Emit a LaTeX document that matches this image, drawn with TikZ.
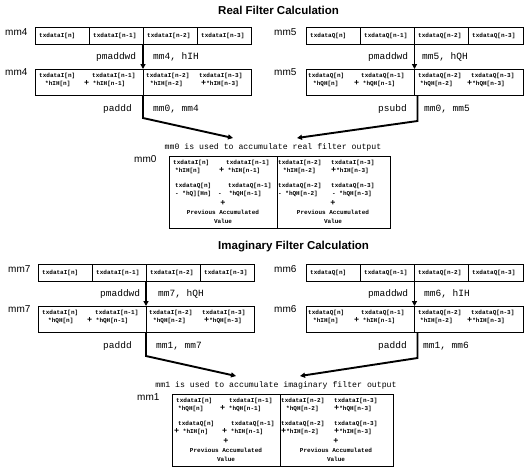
\documentclass[tikz,border=0pt]{standalone}
\usepackage{fontspec}
\setmainfont{Liberation Sans}
\newfontfamily\monof{Liberation Mono}
\usetikzlibrary{arrows.meta,calc}

\tikzset{
  regbox/.style={draw,line width=0.8pt,inner sep=0pt,outer sep=0pt,minimum width=216pt,anchor=north west},
  divider/.style={line width=0.8pt},
  cell/.style={anchor=west,inner sep=0pt,font=\monof\bfseries\fontsize{6}{7}\selectfont},
  cellc/.style={cell,anchor=center},
  reglbl/.style={anchor=west,inner sep=0pt,font=\fontsize{10}{12}\selectfont},
  oplbl/.style={anchor=west,inner sep=0pt,font=\monof\fontsize{9.5}{11}\selectfont},
  caption/.style={inner sep=0pt,font=\monof\fontsize{8.2}{10}\selectfont},
  title/.style={anchor=west,inner sep=0pt,font=\bfseries\fontsize{11.5}{14}\selectfont},
  flow/.style={line width=1.9pt,-{Triangle[length=5pt,width=5pt]}},
}

\newcommand\pl{{\fontsize{8.5}{8}\selectfont +}}
\newcommand\rowcells[7]{%
  \node[cell] (#1a) at (#2+4,#3+8.5) {#4};
  \node[cell] (#1b) at (#2+58,#3+8.5) {#5};
  \node[cell] (#1c) at (#2+112,#3+8.5) {#6};
  \node[cell] (#1d) at (#2+166,#3+8.5) {#7};}
\newcommand\halfcells[9]{%
  \node[cell] (#1a) at (#2+4,#3+7) {#4};
  \node[cell] (#1b) at (#2+57,#3+7) {#5};
  \node[cell] (#1c) at (#2+#8,#3+15) {#6};
  \node[cell] (#1d) at (#2+#9,#3+15) {#7};}
\newcommand\acctail[3]{%
  \node[cellc] (#1p) at (#2,#3+47) {\pl};
  \node[cellc] (#1v) at (#2,#3+56) {Previous Accumulated};
  \node[cellc] (#1w) at (#2,#3+65) {Value};}

\begin{document}
\begin{tikzpicture}[x=1pt,y=-1pt]
\useasboundingbox (0,0) rectangle (532,469);

%% ---------------- Real filter ----------------
\node[title] (ttlA) at (218,10) {Real Filter Calculation};
\node[reglbl] (l4a) at (5,32) {mm4};
\node[reglbl] (l5a) at (274,32) {mm5};
\node[reglbl] (l4b) at (5,72) {mm4};
\node[reglbl] (l5b) at (274,72) {mm5};
\node[regbox,minimum height=17pt] (r4a) at (35,27) {};
\node[regbox,minimum width=217pt,minimum height=17pt] (r5a) at (306,27) {};
\node[regbox,minimum height=26pt] (r4b) at (35,69) {};
\node[regbox,minimum width=217pt,minimum height=26pt] (r5b) at (306,69) {};
\foreach \bx in {r4a,r5a}{\foreach \f in {0.25,0.5,0.75}{
  \draw[divider] ($(\bx.north west)!\f!(\bx.north east)$) -- ($(\bx.south west)!\f!(\bx.south east)$);}}
\foreach \bx in {r4b,r5b}{\draw[divider] (\bx.north) -- (\bx.south);}
\rowcells{c4}{35}{27}{txdataI[n]}{txdataI[n-1]}{txdataI[n-2]}{txdataI[n-3]}
\rowcells{c5}{306}{27}{txdataQ[n]}{txdataQ[n-1]}{txdataQ[n-2]}{txdataQ[n-3]}
\halfcells{h4l}{35}{69}{txdataI[n]}{txdataI[n-1]}{*hIH[n]}{\pl\ *hIH[n-1]}{10}{49}
\halfcells{h4r}{142}{69}{txdataI[n-2]}{txdataI[n-3]}{*hIH[n-2]}{\pl*hIH[n-3]}{8}{59}
\halfcells{h5l}{304}{69}{txdataQ[n]}{txdataQ[n-1]}{*hQH[n]}{\pl\ *hQH[n-1]}{9}{50}
\halfcells{h5r}{414}{69}{txdataQ[n-2]}{txdataQ[n-3]}{*hQH[n-2]}{\pl*hQH[n-3]}{6}{53}
\node[oplbl] (o4a) at (96,57) {pmaddwd};
\node[oplbl] (o4b) at (153,57) {mm4, hIH};
\node[oplbl] (o5a) at (368,57) {pmaddwd};
\node[oplbl] (o5b) at (422,57) {mm5, hQH};
\node[oplbl] (o4c) at (103,109) {paddd};
\node[oplbl] (o4d) at (153,109) {mm0, mm4};
\node[oplbl] (o5c) at (378,109) {psubd};
\node[oplbl] (o5d) at (424,109) {mm0, mm5};
\draw[flow] (r4a.south) -- (r4b.north);
\draw[flow] (r5a.south) -- (r5b.north);
\coordinate (aL0) at (233,138);
\coordinate (aR0) at (297,138);
\draw[flow] (r4b.south) -- ++(0,23) -- (aL0);
\draw[flow] ([xshift=3pt]r5b.south) -- ++(0,26) -- (aR0);
\node[caption] (cap0) at (273,147) {mm0 is used to accumulate real filter output};
\node[reglbl] (l0) at (134,159) {mm0};
\node[regbox,minimum width=221pt,minimum height=72pt] (acc0) at (169,156) {};
\draw[divider] ($(acc0.north west)+(108,0)$) -- ($(acc0.south west)+(108,0)$);
\halfcells{a0l1}{169}{156}{txdataI[n]}{txdataI[n-1]}{*hIH[n]}{\pl\ *hIH[n-1]}{6}{50}
\halfcells{a0l2}{171}{179}{txdataQ[n]}{txdataQ[n-1]}{- *hQ][Hn]}{-~~*hQH[n-1]}{4}{47}
\halfcells{a0r1}{274}{156}{txdataI[n-2]}{txdataI[n-3]}{*hIH[n-2]}{\pl*hIH[n-3]}{9}{57}
\halfcells{a0r2}{274}{179}{txdataQ[n-2]}{txdataQ[n-3]}{- *hQH[n-2]}{- *hQH[n-3]}{4}{58}
\acctail{a0lt}{223}{156}
\acctail{a0rt}{333}{156}

%% ---------------- Imaginary filter ----------------
\begin{scope}[shift={(0,237)}]
\node[title] (ttlB) at (218,10) {Imaginary Filter Calculation};
\node[reglbl] (l6a) at (274,32) {mm6};
\node[reglbl] (l6b) at (274,72) {mm6};
\node[regbox,minimum width=217pt,minimum height=17pt] (r6a) at (306,27) {};
\node[regbox,minimum width=217pt,minimum height=26pt] (r6b) at (306,69) {};
\foreach \f in {0.25,0.5,0.75}{
  \draw[divider] ($(r6a.north west)!\f!(r6a.north east)$) -- ($(r6a.south west)!\f!(r6a.south east)$);}
\draw[divider] (r6b.north) -- (r6b.south);
\rowcells{c6}{306}{27}{txdataQ[n]}{txdataQ[n-1]}{txdataQ[n-2]}{txdataQ[n-3]}
\halfcells{h6l}{304}{69}{txdataQ[n]}{txdataQ[n-1]}{*hIH[n]}{\pl\ *hIH[n-1]}{9}{50}
\halfcells{h6r}{414}{69}{txdataQ[n-2]}{txdataQ[n-3]}{*hIH[n-2]}{\pl*hIH[n-3]}{6}{53}
\node[oplbl] (o6a) at (368,57) {pmaddwd};
\node[oplbl] (o6b) at (424,57) {mm6, hIH};
\node[oplbl] (o6c) at (378,109) {paddd};
\node[oplbl] (o6d) at (423,109) {mm1, mm6};
\draw[flow] (r6a.south) -- (r6b.north);
\end{scope}

\begin{scope}[shift={(3,237)}]
\node[reglbl] (l7a) at (5,32) {mm7};
\node[reglbl] (l7b) at (5,72) {mm7};
\node[regbox,minimum height=17pt] (r7a) at (35,27) {};
\node[regbox,minimum height=26pt] (r7b) at (35,69) {};
\foreach \f in {0.25,0.5,0.75}{
  \draw[divider] ($(r7a.north west)!\f!(r7a.north east)$) -- ($(r7a.south west)!\f!(r7a.south east)$);}
\draw[divider] (r7b.north) -- (r7b.south);
\rowcells{c7}{35}{27}{txdataI[n]}{txdataI[n-1]}{txdataI[n-2]}{txdataI[n-3]}
\halfcells{h7l}{35}{69}{txdataI[n]}{txdataI[n-1]}{*hQH[n]}{\pl\ *hQH[n-1]}{10}{49}
\halfcells{h7r}{142}{69}{txdataI[n-2]}{txdataI[n-3]}{*hQH[n-2]}{\pl*hQH[n-3]}{8}{59}
\node[oplbl] (o7a) at (97,57) {pmaddwd};
\node[oplbl] (o7b) at (155,57) {mm7, hQH};
\node[oplbl] (o7c) at (100,109) {paddd};
\node[oplbl] (o7d) at (153,109) {mm1, mm7};
\draw[flow] (r7a.south) -- (r7b.north);
\coordinate (aL1) at (233,139);
\coordinate (aR1) at (297,139);
\draw[flow] (r7b.south) -- ++(0,24) -- (aL1);
\node[caption] (cap1) at (273,148) {mm1 is used to accumulate imaginary filter output};
\node[reglbl] (l1) at (134,160) {mm1};
\node[regbox,minimum width=221pt,minimum height=72pt] (acc1) at (169,157) {};
\draw[divider] ($(acc1.north west)+(108,0)$) -- ($(acc1.south west)+(108,0)$);
\halfcells{a1l1}{169}{157}{txdataI[n]}{txdataI[n-1]}{*hQH[n]}{\pl\ *hQH[n-1]}{6}{48}
\halfcells{a1l2}{171}{180}{txdataQ[n]}{txdataQ[n-1]}{\pl\ *hIH[n]}{\pl\ *hIH[n-1]}{0}{48}
\halfcells{a1r1}{274}{157}{txdataI[n-2]}{txdataI[n-3]}{*hQH[n-2]}{\pl*hQH[n-3]}{9}{57}
\halfcells{a1r2}{274}{180}{txdataQ[n-2]}{txdataQ[n-3]}{\pl*hIH[n-2]}{\pl*hIH[n-3]}{4}{57}
\acctail{a1lt}{223}{157}
\acctail{a1rt}{333}{157}
\end{scope}
\draw[flow] ([xshift=3pt]r6b.south) -- ++(0,26) -- (aR1);
\end{tikzpicture}
\end{document}
